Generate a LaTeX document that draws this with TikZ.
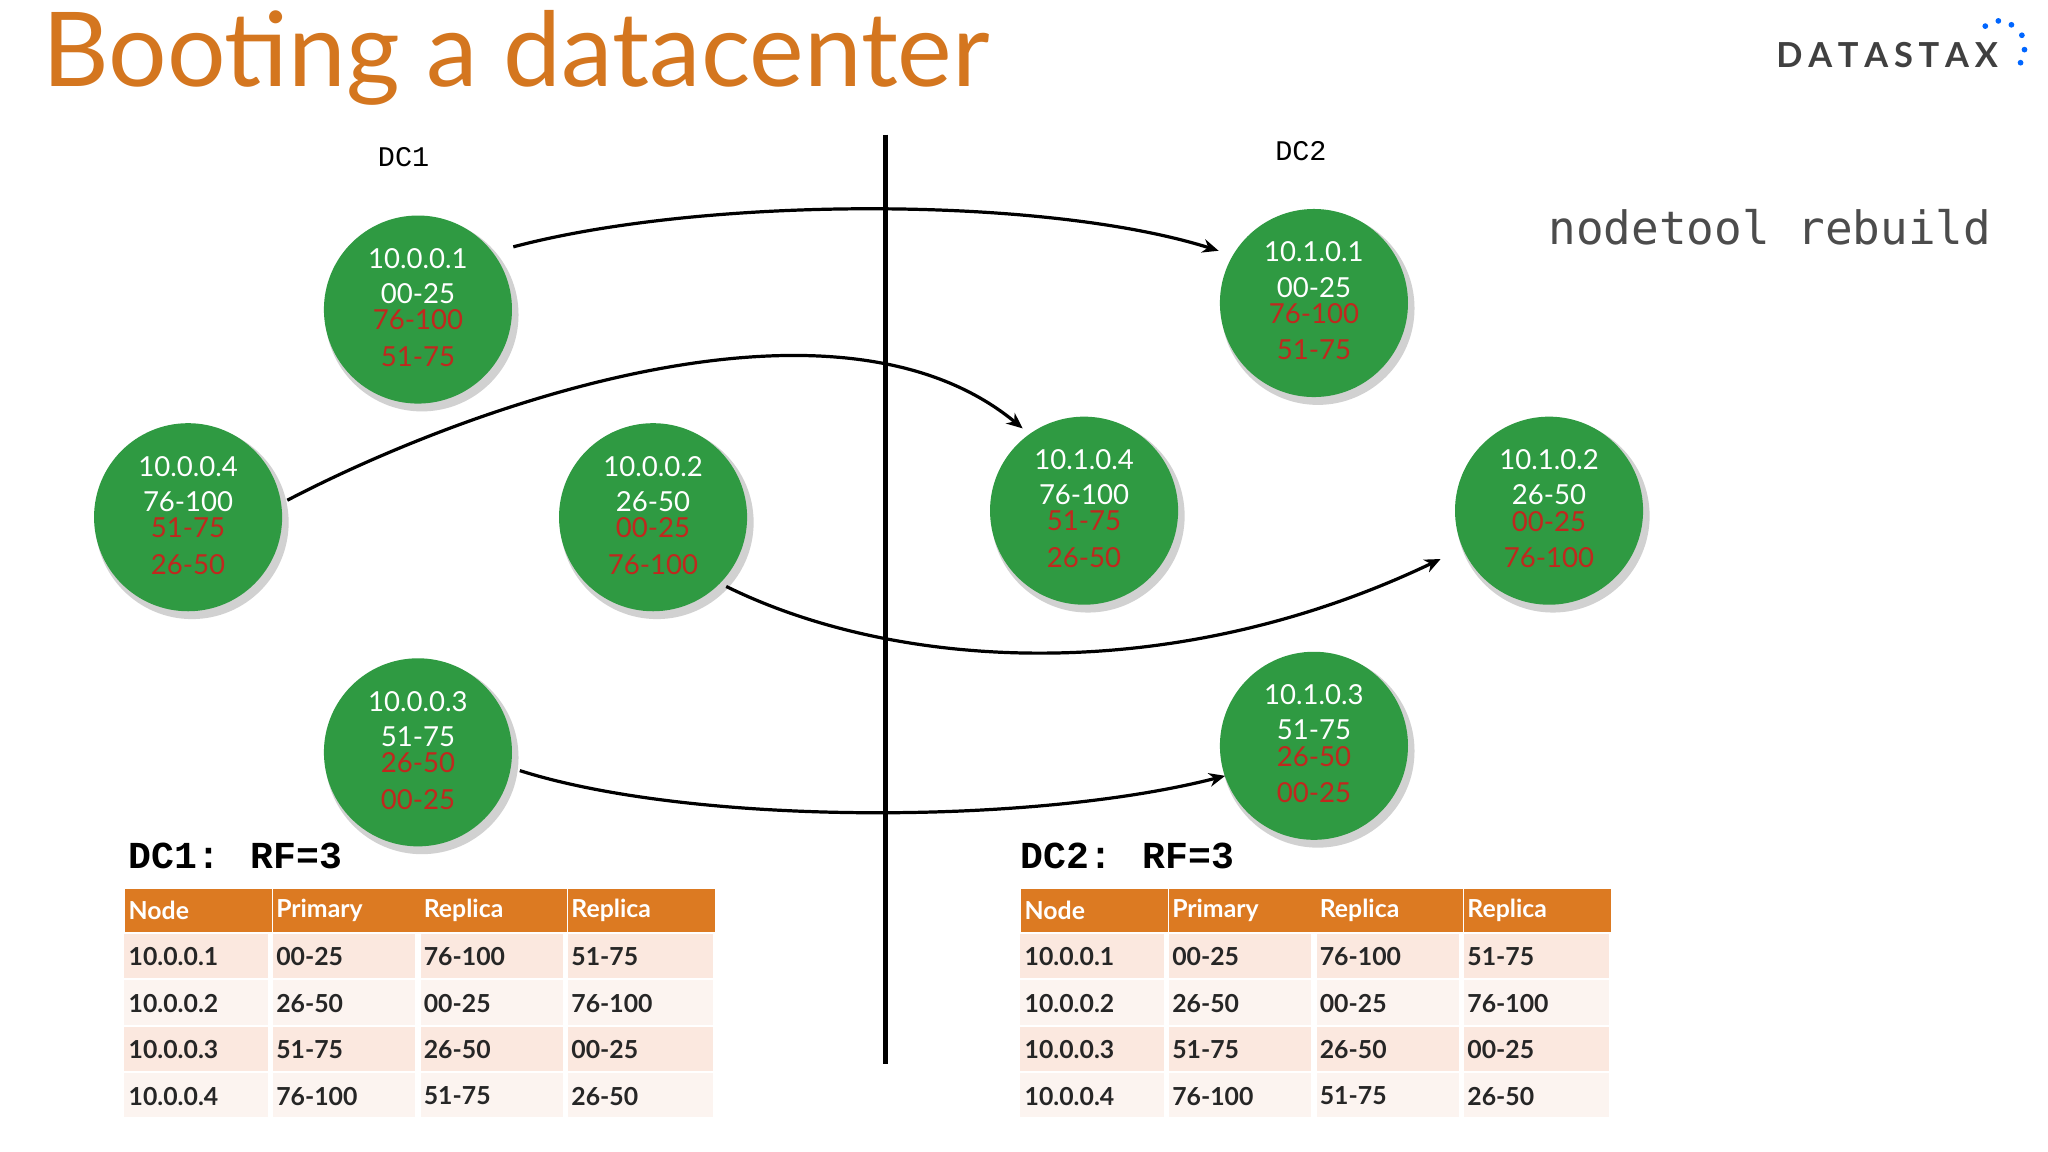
\documentclass[tikz,border=0pt]{standalone}
\usepackage{fontspec}
\setmainfont{Lato}
\newfontfamily\dmono{DejaVu Sans Mono}
\newfontfamily\cmono{Liberation Mono}
\usetikzlibrary{arrows.meta}
\definecolor{ttl}{HTML}{D4761F}
\definecolor{grn}{HTML}{2F9A42}
\definecolor{rd}{HTML}{C0281E}
\definecolor{hdr}{HTML}{DC7A22}
\definecolor{rowa}{HTML}{FBE8DF}
\definecolor{rowb}{HTML}{FCF4F0}
\newcommand{\fs}[1]{\fontsize{#1}{#1}\selectfont}
\tikzset{
  dnode/.style={circle,fill=grn,minimum size=144*0.01cm,inner sep=0pt},
  wl/.style={text=white,font=\fs{6}},
  rl/.style={text=rd,font=\fs{6}},
  arr/.style={-{Stealth[length=3.5pt,width=3pt]},line width=0.7pt},
  hcell/.style={fill=hdr,text=white,font=\bfseries\fs{5.4},minimum width=111*0.01cm,minimum height=33*0.01cm,anchor=north west,inner sep=0.8pt,text width=107*0.01cm,align=left},
  ccell/.style={text=black!85,font=\bfseries\fs{5.4},minimum width=111*0.01cm,minimum height=34*0.01cm,anchor=north west,inner sep=0.8pt,text width=107*0.01cm,align=left},
}
\begin{document}
\begin{tikzpicture}[x=0.01cm,y=-0.01cm]
\useasboundingbox[fill=white] (0,0) rectangle (1568,882);
\node[anchor=west,text=ttl,font=\fs{22.5}] (title) at (20,44) {Booting a datacenter};
\node[anchor=east,font=\bfseries\fs{7.5},text=black!75] (logo) at (1542,42) {D\,A\,T\,A\,S\,T\,A\,X};
\foreach \i/\x/\y in {1/1520/20,2/1530/16,3/1540/19,4/1548/27,5/1550/38,6/1547/48}
  \fill[blue!60!cyan] (\x,\y) circle (2.2);
\node[font=\dmono\fs{10},text=black!70] (cmd) at (1355,174) {nodetool rebuild};
\node[font=\cmono\fs{6.2}] (dc1) at (309,120) {DC1};
\node[font=\cmono\fs{6.2}] (dc2) at (996,116) {DC2};
\draw[line width=1pt] (678,103) coordinate (ltop) -- (678,815) coordinate (lbot);
\foreach \n/\x/\y/\ip/\p/\ra/\rb in {
 a/320/237/10.0.0.1/00-25/76-100/51-75,
 d/144/396/10.0.0.4/76-100/51-75/26-50,
 b/500/396/10.0.0.2/26-50/00-25/76-100,
 c/320/576/10.0.0.3/51-75/26-50/00-25,
 e/1006/232/10.1.0.1/00-25/76-100/51-75,
 h/830/391/10.1.0.4/76-100/51-75/26-50,
 f/1186/391/10.1.0.2/26-50/00-25/76-100,
 g/1006/571/10.1.0.3/51-75/26-50/00-25}{
  \fill[black!18] (\x+3,\y+4) circle (74);
  \node[dnode] (\n) at (\x,\y) {};
  \node[wl] at (\x,\y-39) {\ip};
  \node[wl] at (\x,\y-12) {\p};
  \node[rl] at (\x,\y+8) {\ra};
  \node[rl] at (\x,\y+36) {\rb};
}
\draw[arr] (393,189) .. controls (540,150) and (800,150) .. (933,192);
\draw[arr] (220,383) .. controls (360,310) and (640,210) .. (783,328);
\draw[arr] (556,449) .. controls (690,515) and (900,525) .. (1103,428);
\draw[arr] (398,590) .. controls (530,632) and (790,632) .. (938,594);
\node[anchor=west,font=\cmono\bfseries\fs{8.3}] (t1) at (86,655) {DC1: RF=3};
\node[anchor=west,font=\cmono\bfseries\fs{8.3}] (t2) at (769,655) {DC2: RF=3};
\foreach \tx in {95,781}{
  \foreach \h [count=\k from 0] in {Node,Primary,Replica,Replica}
    \node[hcell] at (\tx+\k*113,680) {\h};
  \foreach \r/\A/\B/\C/\D [count=\j from 0] in {
    1/10.0.0.1/00-25/76-100/51-75,
    2/10.0.0.2/26-50/00-25/76-100,
    3/10.0.0.3/51-75/26-50/00-25,
    4/10.0.0.4/76-100/51-75/26-50}{
    \pgfmathsetmacro\yy{715+\j*35.5}
    \ifodd\r \def\rc{rowa}\else\def\rc{rowb}\fi
    \fill[\rc] (\tx,\yy) rectangle (\tx+451,\yy+34);
    \node[ccell] at (\tx,\yy) {\A};
    \node[ccell] at (\tx+113,\yy) {\B};
    \node[ccell] at (\tx+226,\yy) {\C};
    \node[ccell] at (\tx+339,\yy) {\D};
  }
  \foreach \k in {1,2,3}
    \draw[white,line width=1.2pt] (\tx+\k*113-1,715) -- (\tx+\k*113-1,857);
}
\end{tikzpicture}
\end{document}
